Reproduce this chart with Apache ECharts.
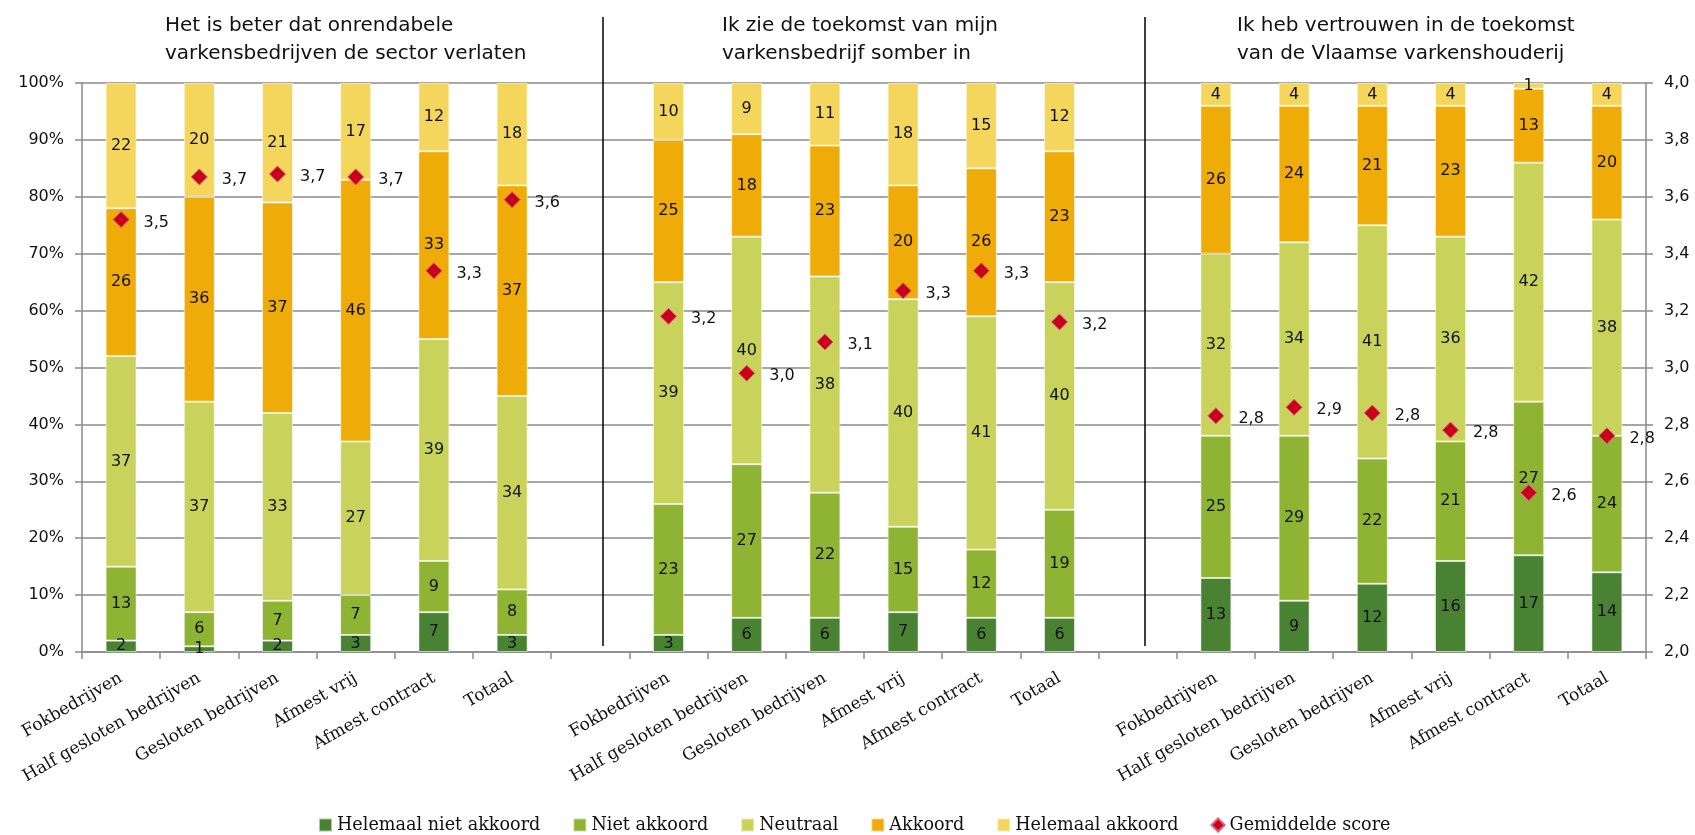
<!DOCTYPE html>
<html>
<head>
<meta charset="utf-8">
<script src="https://cdn.jsdelivr.net/npm/echarts@6/dist/echarts.min.js"></script>
<style>
html,body{margin:0;padding:0;background:#fff;}
#chart{width:1695px;height:835px;}
</style>
</head>
<body>
<div id="chart"></div>
<script>
const categories = ['Fokbedrijven', 'Half gesloten bedrijven', 'Gesloten bedrijven', 'Afmest vrij', 'Afmest contract', 'Totaal'];
const groupTitles = [
  'Het is beter dat onrendabele\nvarkensbedrijven de sector verlaten',
  'Ik zie de toekomst van mijn\nvarkensbedrijf somber in',
  'Ik heb vertrouwen in de toekomst\nvan de Vlaamse varkenshouderij'
];
const seriesNames = ['Helemaal niet akkoord', 'Niet akkoord', 'Neutraal', 'Akkoord', 'Helemaal akkoord', 'Gemiddelde score'];
const helemaalNietAkkoord = [[2, 1, 2, 3, 7, 3], [3, 6, 6, 7, 6, 6], [13, 9, 12, 16, 17, 14]];
const nietAkkoord = [[13, 6, 7, 7, 9, 8], [23, 27, 22, 15, 12, 19], [25, 29, 22, 21, 27, 24]];
const neutraal = [[37, 37, 33, 27, 39, 34], [39, 40, 38, 40, 41, 40], [32, 34, 41, 36, 42, 38]];
const akkoord = [[26, 36, 37, 46, 33, 37], [25, 18, 23, 20, 26, 23], [26, 24, 21, 23, 13, 20]];
const helemaalAkkoord = [[22, 20, 21, 17, 12, 18], [10, 9, 11, 18, 15, 12], [4, 4, 4, 4, 1, 4]];
const gemiddeldeScore = [[3.52, 3.67, 3.68, 3.67, 3.34, 3.59], [3.18, 2.98, 3.09, 3.27, 3.34, 3.16], [2.83, 2.86, 2.84, 2.78, 2.56, 2.76]];

function flatten(groups, gap) {
  const out = [];
  groups.forEach((g, i) => { if (i > 0) out.push(gap); out.push(...g); });
  return out;
}
const xLabels = flatten([categories, categories, categories], '');

const FONT = 'DejaVu Sans';
const SERIF = 'DejaVu Serif';
const colors = ['#4A8234', '#8FB333', '#C9D35C', '#EFAB08', '#F5D65C', '#C8001E'];
const barData = [helemaalNietAkkoord, nietAkkoord, neutraal, akkoord, helemaalAkkoord];
const GRID_COLOR = '#8a8a8a';

const chart = echarts.init(document.getElementById('chart'), null, {renderer: 'canvas'});

const series = barData.map((d, i) => ({
  name: seriesNames[i],
  type: 'bar',
  stack: 'total',
  barWidth: 31,
  data: flatten(d, '-'),
  itemStyle: {color: colors[i], borderColor: 'rgba(255,255,255,0.55)', borderWidth: 1},
  label: {
    show: true, position: 'inside', color: '#111', fontFamily: FONT, fontSize: 16,
    formatter: p => p.value
  },
  emphasis: {disabled: true}
}));
series.push({
  name: seriesNames[5],
  type: 'scatter',
  yAxisIndex: 1,
  symbol: 'diamond',
  symbolSize: [16, 16],
  z: 5,
  data: flatten(gemiddeldeScore, '-'),
  itemStyle: {color: colors[5], borderColor: '#D8607A', borderWidth: 1, opacity: 1},
  label: {
    show: true, position: 'right', distance: 14, offset: [0, 3], color: '#111', fontFamily: FONT, fontSize: 16,
    formatter: p => Number(p.value).toFixed(1).replace('.', ',')
  },
  emphasis: {disabled: true}
});

const option = {
  animation: false,
  textStyle: {fontFamily: FONT},
  title: groupTitles.map((t, i) => ({
    text: t,
    left: [160, 717, 1232][i],
    top: 7,
    textStyle: {fontFamily: FONT, fontSize: 20, fontWeight: 'normal', color: '#111', lineHeight: 28}
  })),
  grid: {left: 82, right: 49, top: 83, bottom: 183, containLabel: false},
  legend: {
    top: 815,
    left: 318,
    padding: 0,
    itemWidth: 13,
    itemHeight: 13,
    itemGap: 32,
    textStyle: {fontFamily: SERIF, fontSize: 17.6, color: '#111', lineHeight: 20},
    data: seriesNames.map((n, i) => ({name: n, icon: i === 5 ? 'diamond' : 'rect'}))
  },
  xAxis: {
    type: 'category',
    data: xLabels,
    boundaryGap: true,
    axisLine: {lineStyle: {color: GRID_COLOR, width: 1.5}},
    axisTick: {show: true, interval: 0, length: 7, lineStyle: {color: GRID_COLOR, width: 1.5}},
    axisLabel: {interval: 0, rotate: 30, margin: 25, fontFamily: SERIF, fontSize: 17, color: '#111'}
  },
  yAxis: [
    {
      type: 'value', min: 0, max: 100, interval: 10,
      axisLine: {show: true, lineStyle: {color: GRID_COLOR, width: 1.5}},
      axisTick: {show: true, length: 7, lineStyle: {color: GRID_COLOR, width: 1.5}},
      axisLabel: {formatter: '{value}%', fontFamily: FONT, fontSize: 16, color: '#111', margin: 18},
      splitLine: {show: true, lineStyle: {color: GRID_COLOR, width: 1.5}}
    },
    {
      type: 'value', min: 2, max: 4, interval: 0.2, position: 'right',
      axisLine: {show: true, lineStyle: {color: GRID_COLOR, width: 1.5}},
      axisTick: {show: true, length: 7, lineStyle: {color: GRID_COLOR, width: 1.5}},
      axisLabel: {formatter: v => v.toFixed(1).replace('.', ','), fontFamily: FONT, fontSize: 16, color: '#111', margin: 18},
      splitLine: {show: false}
    }
  ],
  graphic: [
    {type: 'line', shape: {x1: 603, y1: 17, x2: 603, y2: 646}, style: {stroke: '#000', lineWidth: 1.5}, z: 10},
    {type: 'line', shape: {x1: 1145, y1: 17, x2: 1145, y2: 646}, style: {stroke: '#000', lineWidth: 1.5}, z: 10}
  ],
  series: series
};
chart.setOption(option);
</script>
</body>
</html>
